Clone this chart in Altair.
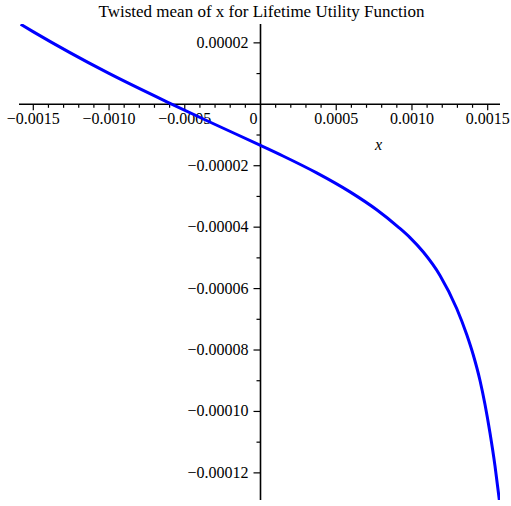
import altair as alt
import pandas as pd

# Curve samples: twisted mean as a function of x
x_vals = [-0.0015832, -0.0015020, -0.0010068, -0.0005975, -0.0003136, 0.0,
          0.0001485, 0.0003710, 0.0005909, 0.0007672, 0.0009098, 0.0009870,
          0.0010748, 0.0011851, 0.0012953, 0.0013614, 0.0014049, 0.0014492,
          0.0014822, 0.0015152, 0.0015482, 0.0015768]
y_vals = [2.605e-5, 2.367e-5, 1.022e-5, 0.033e-5, -0.625e-5, -1.338e-5,
          -1.683e-5, -2.233e-5, -2.852e-5, -3.435e-5, -3.998e-5, -4.340e-5,
          -4.809e-5, -5.571e-5, -6.648e-5, -7.495e-5, -8.162e-5, -8.992e-5,
          -9.774e-5, -1.0702e-4, -1.1776e-4, -1.2883e-4]

# Axis ranges
X_MIN, X_MAX = -0.0015944, 0.0015812
Y_MIN, Y_MAX = -0.00012883, 0.00002614

# Tick positions and labels
x_major = [-0.0015, -0.0010, -0.0005, 0.0005, 0.0010, 0.0015]
x_major_labels = ["\u22120.0015", "\u22120.0010", "\u22120.0005", "0.0005", "0.0010", "0.0015"]
x_minor = [-0.0014, -0.0013, -0.0012, -0.0011, -0.0009, -0.0008, -0.0007, -0.0006,
           -0.0004, -0.0003, -0.0002, -0.0001, 0.0001, 0.0002, 0.0003, 0.0004,
           0.0006, 0.0007, 0.0008, 0.0009, 0.0011, 0.0012, 0.0013, 0.0014]
y_major = [0.00002, -0.00002, -0.00004, -0.00006, -0.00008, -0.00010, -0.00012]
y_major_labels = ["0.00002", "\u22120.00002", "\u22120.00004", "\u22120.00006",
                  "\u22120.00008", "\u22120.00010", "\u22120.00012"]
y_minor = [0.00001, -0.00001, -0.00003, -0.00005, -0.00007, -0.00009, -0.00011]

TITLE = "Twisted mean of x for Lifetime Utility Function"
FONT = "Liberation Serif"

xs = alt.Scale(domain=[X_MIN, X_MAX], nice=False, zero=False)
ys = alt.Scale(domain=[Y_MIN, Y_MAX], nice=False, zero=False)

curve_df = pd.DataFrame({"x": x_vals, "y": y_vals})

curve = alt.Chart(curve_df).mark_line(
    color="#0000ff", strokeWidth=3, interpolate="monotone", clip=True
).encode(
    x=alt.X("x:Q", scale=xs, axis=None),
    y=alt.Y("y:Q", scale=ys, axis=None),
)

# Axes crossing at the origin
h_axis = alt.Chart(pd.DataFrame({"a": [X_MIN], "b": [X_MAX]})).mark_rule(
    color="black", strokeWidth=1.6
).encode(
    x=alt.X("a:Q", scale=xs, axis=None),
    x2="b:Q",
    y=alt.Y(datum=0, scale=ys, axis=None),
)
v_axis = alt.Chart(pd.DataFrame({"a": [Y_MIN], "b": [Y_MAX]})).mark_rule(
    color="black", strokeWidth=1.6
).encode(
    y=alt.Y("a:Q", scale=ys, axis=None),
    y2="b:Q",
    x=alt.X(datum=0, scale=xs, axis=None),
)

xmaj_df = pd.DataFrame({"v": x_major, "label": x_major_labels})
xmin_df = pd.DataFrame({"v": x_minor})
ymaj_df = pd.DataFrame({"v": y_major, "label": y_major_labels})
ymin_df = pd.DataFrame({"v": y_minor})


def x_ticks(df, length):
    return alt.Chart(df).mark_rule(color="black", strokeWidth=1.2, y2Offset=length).encode(
        x=alt.X("v:Q", scale=xs, axis=None),
        y=alt.Y(datum=0, scale=ys, axis=None),
        y2=alt.Y2(datum=0),
    )


def y_ticks(df, length):
    return alt.Chart(df).mark_rule(color="black", strokeWidth=1.2, x2Offset=-length).encode(
        y=alt.Y("v:Q", scale=ys, axis=None),
        x=alt.X(datum=0, scale=xs, axis=None),
        x2=alt.X2(datum=0),
    )


x_labels = alt.Chart(xmaj_df).mark_text(
    font=FONT, fontSize=16, color="black", align="center", baseline="alphabetic", dy=20
).encode(
    x=alt.X("v:Q", scale=xs, axis=None),
    y=alt.Y(datum=0, scale=ys, axis=None),
    text="label:N",
)

zero_label = alt.Chart(pd.DataFrame({"v": [0.0], "label": ["0"]})).mark_text(
    font=FONT, fontSize=16, color="black", align="center", baseline="alphabetic", dy=20, dx=-7
).encode(
    x=alt.X("v:Q", scale=xs, axis=None),
    y=alt.Y(datum=0, scale=ys, axis=None),
    text="label:N",
)

y_labels = alt.Chart(ymaj_df).mark_text(
    font=FONT, fontSize=16, color="black", align="right", baseline="alphabetic", dx=-12, dy=5
).encode(
    y=alt.Y("v:Q", scale=ys, axis=None),
    x=alt.X(datum=0, scale=xs, axis=None),
    text="label:N",
)

x_title = alt.Chart(pd.DataFrame({"t": ["x"]})).mark_text(
    font=FONT, fontSize=16, fontStyle="italic", color="black", align="center", baseline="alphabetic"
).encode(
    x=alt.value(359.5),
    y=alt.value(126),
    text="t:N",
)

title = alt.Chart(pd.DataFrame({"t": [TITLE]})).mark_text(
    font=FONT, fontSize=17, color="black", align="center", baseline="alphabetic"
).encode(
    x=alt.value(242.5),
    y=alt.value(-7),
    text="t:N",
)

chart = alt.layer(
    h_axis, v_axis,
    x_ticks(xmaj_df, 6), x_ticks(xmin_df, 3.5),
    y_ticks(ymaj_df, 7), y_ticks(ymin_df, 4),
    x_labels, zero_label, y_labels, x_title, title,
    curve,
).properties(
    width=481,
    height=476,
    autosize=alt.AutoSizeParams(type="none"),
    padding={"left": 19, "top": 24, "right": 11, "bottom": 6},
    background="white",
).configure_view(strokeWidth=0)

chart.save("out.html", embed_options={"renderer": "svg", "actions": False})
